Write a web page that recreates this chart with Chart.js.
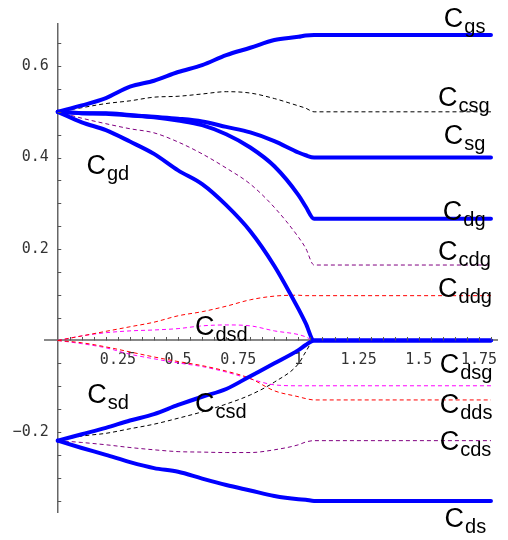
<!DOCTYPE html>
<html>
<head>
<meta charset="utf-8">
<script src="https://cdn.jsdelivr.net/npm/chart.js@4.4.0/dist/chart.umd.min.js"></script>
<style>
  html, body { margin: 0; padding: 0; background: #fff; }
  .wrap { width: 508px; height: 540px; }
</style>
</head>
<body>
<div class="wrap"><canvas id="capChart"></canvas></div>
<script>
"use strict";

// sample positions along x
const xs = [0, 0.1, 0.2, 0.3, 0.4, 0.5, 0.6, 0.7, 0.8, 0.9, 1.0, 1.03, 1.065, 1.8];

// thick blue curves
const cgs = [0.5, 0.514, 0.53, 0.555, 0.568, 0.587, 0.602, 0.624, 0.64, 0.657, 0.664, 0.667, 0.668, 0.668];
const csg = [0.5, 0.497, 0.497, 0.493, 0.489, 0.485, 0.479, 0.467, 0.455, 0.436, 0.411, 0.405, 0.4, 0.4];
const cdg = [0.5, 0.497, 0.496, 0.492, 0.488, 0.481, 0.471, 0.451, 0.422, 0.381, 0.318, 0.293, 0.266, 0.266];
const cgd = [0.5, 0.477, 0.46, 0.435, 0.408, 0.372, 0.342, 0.296, 0.239, 0.163, 0.069, 0.038, 0, 0];
const csd = [-0.219, -0.205, -0.191, -0.175, -0.161, -0.141, -0.123, -0.106, -0.078, -0.05, -0.021, -0.01, 0, 0];
const cds = [-0.219, -0.235, -0.25, -0.266, -0.279, -0.287, -0.302, -0.316, -0.328, -0.34, -0.347, -0.348, -0.351, -0.351];

// thin dashed curves
const ccsg = [0.5, 0.509, 0.518, 0.524, 0.532, 0.534, 0.539, 0.544, 0.541, 0.529, 0.513, 0.508, 0.5, 0.5];
const ccsd = [-0.219, -0.209, -0.203, -0.193, -0.183, -0.17, -0.156, -0.139, -0.119, -0.091, -0.051, -0.025, 0, 0];
const ccdg = [0.5, 0.486, 0.474, 0.463, 0.454, 0.434, 0.408, 0.377, 0.342, 0.291, 0.226, 0.202, 0.165, 0.165];
const ccds = [-0.219, -0.223, -0.228, -0.234, -0.239, -0.243, -0.244, -0.245, -0.245, -0.239, -0.228, -0.222, -0.219, -0.219];
const cddg = [0, 0.01, 0.02, 0.03, 0.04, 0.054, 0.063, 0.075, 0.089, 0.097, 0.099, 0.098, 0.098, 0.098];
const cdds = [0, -0.005, -0.014, -0.025, -0.036, -0.046, -0.055, -0.067, -0.083, -0.11, -0.123, -0.127, -0.13, -0.13];
const cdsd = [0, 0.01, 0.017, 0.021, 0.023, 0.026, 0.032, 0.034, 0.032, 0.021, 0.013, 0.008, 0, 0];
const cdsg = [0, -0.007, -0.016, -0.03, -0.04, -0.049, -0.057, -0.069, -0.084, -0.097, -0.099, -0.099, -0.099, -0.099];

// tick labels
const xTickVals = [0.25, 0.5, 0.75, 1, 1.25, 1.5, 1.75];
const yTickVals = [-0.2, 0.2, 0.4, 0.6];

const pts = (ys) => xs.map((x, i) => ({ x: x, y: ys[i] }));

function solid(ys) {
  return {
    data: pts(ys),
    borderColor: "#0000ff",
    borderWidth: 4,
    pointRadius: 0,
    borderJoinStyle: "round",
    borderCapStyle: "round",
    cubicInterpolationMode: "monotone",
  };
}

function dashed(ys, color) {
  return {
    data: pts(ys),
    borderColor: color,
    borderWidth: 1,
    borderDash: [4, 3],
    pointRadius: 0,
    cubicInterpolationMode: "monotone",
  };
}

// curve names: subscript, x, y (data units, left/baseline of the "C")
const labelSpots = [
  ["gs", 1.604, 0.686],
  ["csg", 1.58, 0.513],
  ["sg", 1.604, 0.43],
  ["dg", 1.6, 0.263],
  ["cdg", 1.58, 0.176],
  ["ddg", 1.58, 0.096],
  ["dsd", 0.57, 0.012],
  ["dsg", 1.587, -0.072],
  ["dds", 1.587, -0.159],
  ["cds", 1.587, -0.239],
  ["ds", 1.607, -0.407],
  ["gd", 0.119, 0.365],
  ["sd", 0.123, -0.137],
  ["csd", 0.57, -0.156],
];

// small inward tick marks every 0.05
const tickMarks = {
  id: "tickMarks",
  afterDraw(chart) {
    const { ctx } = chart;
    const x = chart.scales.x;
    const y = chart.scales.y;
    const x0 = x.getPixelForValue(0);
    const y0 = y.getPixelForValue(0);
    ctx.save();
    ctx.strokeStyle = "#555";
    ctx.lineWidth = 1;
    ctx.beginPath();
    for (let i = 1; i <= 36; i++) {
      const px = Math.round(x.getPixelForValue(i * 0.05)) + 0.5;
      ctx.moveTo(px, y0);
      ctx.lineTo(px, y0 - 3.5);
    }
    for (let i = -7; i <= 13; i++) {
      if (i === 0) continue;
      const py = Math.round(y.getPixelForValue(i * 0.05)) + 0.5;
      ctx.moveTo(x0, py);
      ctx.lineTo(x0 + 3.5, py);
    }
    ctx.stroke();
    ctx.restore();
  },
};

const curveNames = {
  id: "curveNames",
  afterDatasetsDraw(chart) {
    const { ctx } = chart;
    const x = chart.scales.x;
    const y = chart.scales.y;
    ctx.save();
    ctx.fillStyle = "#000";
    ctx.textBaseline = "alphabetic";
    ctx.textAlign = "left";
    labelSpots.forEach(([sub, lx, ly]) => {
      const px = x.getPixelForValue(lx);
      const py = y.getPixelForValue(ly);
      ctx.font = "27px 'Liberation Sans'";
      ctx.fillText("C", px, py);
      const w = ctx.measureText("C").width;
      ctx.font = "20px 'Liberation Sans'";
      ctx.fillText(sub, px + w + 1, py + 6);
    });
    ctx.restore();
  },
};

const tickFont = { family: "'DejaVu Sans Mono'", size: 15 };

new Chart(document.getElementById("capChart"), {
  type: "line",
  data: {
    datasets: [
      solid(cgs),
      solid(csg),
      solid(cdg),
      solid(cgd),
      solid(csd),
      solid(cds),
      dashed(ccsg, "#000000"),
      dashed(ccsd, "#000000"),
      dashed(ccdg, "#800080"),
      dashed(ccds, "#800080"),
      dashed(cddg, "#ff0000"),
      dashed(cdds, "#ff0000"),
      dashed(cdsd, "#ff00ff"),
      dashed(cdsg, "#ff00ff"),
    ],
  },
  options: {
    responsive: true,
    maintainAspectRatio: false,
    animation: false,
    layout: {
      padding: { left: 45, right: 0, top: 24, bottom: 28 },
    },
    plugins: {
      legend: { display: false },
      tooltip: { enabled: false },
    },
    scales: {
      x: {
        type: "linear",
        min: -0.053,
        max: 1.829,
        position: { y: 0 },
        grid: { display: false, drawTicks: false },
        border: { display: true, color: "#888", width: 2 },
        afterBuildTicks: (s) => {
          s.ticks = xTickVals.map((v) => ({ value: v }));
        },
        afterFit: (s) => {
          s.height = 0;
        },
        ticks: {
          font: tickFont,
          color: "#333",
          padding: 11,
          maxRotation: 0,
          autoSkip: false,
          callback: (v) => String(+v.toFixed(2)),
        },
      },
      y: {
        type: "linear",
        min: -0.375,
        max: 0.692,
        position: { x: 0 },
        grid: { display: false, drawTicks: false },
        border: { display: true, color: "#666", width: 1.5 },
        afterBuildTicks: (s) => {
          s.ticks = yTickVals.map((v) => ({ value: v }));
        },
        afterFit: (s) => {
          s.width = 0;
        },
        ticks: {
          font: tickFont,
          color: "#333",
          autoSkip: false,
          // trailing space keeps the label clear of the axis line
          callback: (v) => (v < 0 ? "\u2212" : "") + Math.abs(v).toFixed(1) + " ",
        },
      },
    },
  },
  plugins: [tickMarks, curveNames],
});
</script>
</body>
</html>
